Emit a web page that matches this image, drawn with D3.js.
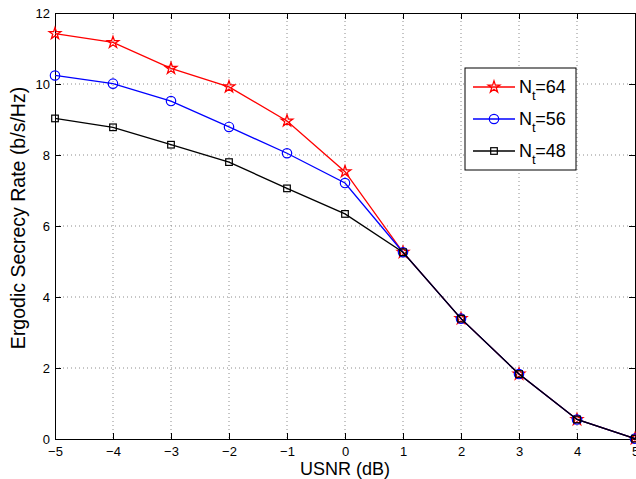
<!DOCTYPE html>
<html>
<head>
<meta charset="utf-8">
<script src="https://cdn.jsdelivr.net/npm/d3@7"></script>
<style>
html,body{margin:0;padding:0;background:#fff;}
svg{display:block;font-family:"Liberation Sans",Arial,Helvetica,sans-serif;}
</style>
</head>
<body>
<svg id="chart" width="636" height="479"></svg>
<script>
const usnr = [-5,-4,-3,-2,-1,0,1,2,3,4,5];
const rateNt64 = [11.42,11.17,10.44,9.92,8.96,7.53,5.26,3.39,1.83,0.55,0.01];
const rateNt56 = [10.24,10.01,9.52,8.79,8.05,7.21,5.26,3.39,1.83,0.55,0.01];
const rateNt48 = [9.03,8.78,8.29,7.80,7.06,6.34,5.26,3.39,1.83,0.55,0.01];
const xTicks = [-5,-4,-3,-2,-1,0,1,2,3,4,5];
const yTicks = [0,2,4,6,8,10,12];
const seriesNames = ["64","56","48"];
const seriesColors = ["#ff0000","#0000ff","#000000"];
const seriesMarkers = ["star","circle","square"];

const svg = d3.select("#chart");
const L = 55, R = 635, T = 13, B = 439;
const x = d3.scaleLinear().domain([-5,5]).range([L,R]);
const y = d3.scaleLinear().domain([0,12]).range([B,T]);

// grid
const g = svg.append("g");
g.selectAll(".gx").data(xTicks.slice(1,-1)).enter().append("line")
  .attr("x1",d=>x(d)).attr("x2",d=>x(d)).attr("y1",T).attr("y2",B)
  .attr("stroke","#8c8c8c").attr("stroke-width",1).attr("stroke-dasharray","1,3");
g.selectAll(".gy").data(yTicks.slice(1,-1)).enter().append("line")
  .attr("y1",d=>y(d)).attr("y2",d=>y(d)).attr("x1",L).attr("x2",R)
  .attr("stroke","#8c8c8c").attr("stroke-width",1).attr("stroke-dasharray","1,3");

// axes (MATLAB style inward ticks)
const fmt = d => d < 0 ? "\u2212" + Math.abs(d) : String(d);
const xAxis = svg.append("g").attr("transform",`translate(0,${B})`)
  .call(d3.axisBottom(x).tickValues(xTicks).tickSize(-6).tickPadding(8).tickFormat(fmt));
const xAxisTop = svg.append("g").attr("transform",`translate(0,${T})`)
  .call(d3.axisTop(x).tickValues(xTicks).tickSize(-6).tickFormat(""));
const yAxis = svg.append("g").attr("transform",`translate(${L},0)`)
  .call(d3.axisLeft(y).tickValues(yTicks).tickSize(-6).tickPadding(5));
const yAxisR = svg.append("g").attr("transform",`translate(${R},0)`)
  .call(d3.axisRight(y).tickValues(yTicks).tickSize(-6).tickFormat(""));
[xAxis,xAxisTop,yAxis,yAxisR].forEach(a=>{
  a.select(".domain").attr("stroke","#000").attr("stroke-width",1);
  a.selectAll(".tick line").attr("stroke","#000");
  a.selectAll("text").attr("font-size",13).attr("fill","#000")
   .attr("font-family","'Liberation Sans',Arial,sans-serif");
});
xAxis.selectAll("text").attr("dy","0.71em");

// series
const allSeries = [rateNt64, rateNt56, rateNt48];
const line = d3.line().x((d,i)=>x(usnr[i])).y(d=>y(d));
function marker(sel, type, color){
  if(type==="star"){
    sel.append("path").attr("d", d3.symbol(d3.symbolStar).size(42)())
      .attr("fill","none").attr("stroke",color).attr("stroke-width",1.3);
  } else if(type==="circle"){
    sel.append("circle").attr("r",4.7).attr("fill","none").attr("stroke",color).attr("stroke-width",1.2);
  } else {
    sel.append("rect").attr("x",-3.3).attr("y",-3.3).attr("width",6.6).attr("height",6.6)
      .attr("fill","none").attr("stroke",color).attr("stroke-width",1.2);
  }
}
allSeries.forEach((vals,k)=>{
  const sg = svg.append("g");
  sg.append("path").datum(vals).attr("d",line).attr("fill","none")
    .attr("stroke",seriesColors[k]).attr("stroke-width",1.3);
  vals.forEach((v,i)=>{
    const m = sg.append("g").attr("transform",`translate(${x(usnr[i])},${y(v)})`);
    marker(m, seriesMarkers[k], seriesColors[k]);
  });
});

// legend
const lg = svg.append("g");
lg.append("rect").attr("x",465).attr("y",68).attr("width",111).attr("height",102)
  .attr("fill","#fff").attr("stroke","#000").attr("stroke-width",1);
const ly = [87,119,151];
seriesNames.forEach((n,k)=>{
  lg.append("line").attr("x1",473).attr("x2",515).attr("y1",ly[k]).attr("y2",ly[k])
    .attr("stroke",seriesColors[k]).attr("stroke-width",1.3);
  const m = lg.append("g").attr("transform",`translate(494,${ly[k]})`);
  marker(m, seriesMarkers[k], seriesColors[k]);
  const t = lg.append("text").attr("x",519).attr("y",ly[k]+6).attr("font-size",18).attr("fill","#000");
  t.append("tspan").text("N");
  t.append("tspan").attr("font-size",13).attr("dy",7).text("t");
  t.append("tspan").attr("dy",-7).attr("dx",-0.5).text("=" + n);
});

// axis labels
svg.append("text").attr("x",345).attr("y",475).attr("text-anchor","middle")
  .attr("font-size",18).attr("fill","#000").text("USNR (dB)");
svg.append("text").attr("transform","translate(25,218) rotate(-90)").attr("text-anchor","middle")
  .attr("font-size",19.5).attr("fill","#000").text("Ergodic Secrecy Rate (b/s/Hz)");
</script>
</body>
</html>
